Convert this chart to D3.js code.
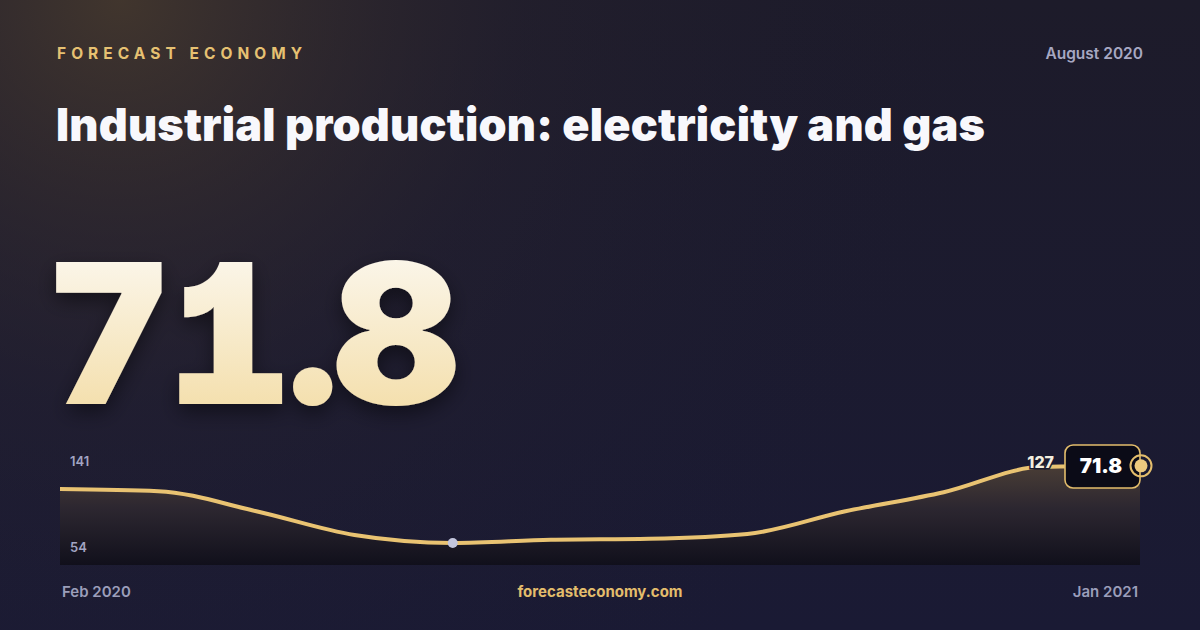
<!DOCTYPE html>
<html><head><meta charset="utf-8">
<script src="https://cdn.jsdelivr.net/npm/d3@7"></script>
<style>
html,body{margin:0;padding:0;background:#181830;}
svg{display:block;font-family:Inter,"Noto Sans",sans-serif;}
.bignum{font-feature-settings:"cv01" 1, "tnum" 1;}
</style></head>
<body>
<svg id="c" width="1200" height="630"></svg>
<script>
const months = ["Feb 2020","Mar 2020","Apr 2020","May 2020","Jun 2020","Jul 2020","Aug 2020","Sep 2020","Oct 2020","Nov 2020","Dec 2020","Jan 2021"];
const values = [105, 103, 84, 61.5, 54, 57, 58, 62.5, 84, 102, 126, 127];
const yRangeLabels = [141, 54];
const headline = "71.8";
const brand = "FORECAST ECONOMY";
const title = "Industrial production: electricity and gas";
const period = "August 2020";
const site = "forecasteconomy.com";

const svg = d3.select("#c");
const defs = svg.append("defs");

function fitWidth(sel, target){
  const n = sel.text().length;
  sel.attr("letter-spacing", 0);
  const w = sel.node().getComputedTextLength();
  sel.attr("letter-spacing", (target - w) / (n - 1));
}

// background
const bg = defs.append("linearGradient").attr("id","bg").attr("x1",0).attr("y1",0).attr("x2",0).attr("y2",1);
bg.append("stop").attr("offset","0%").attr("stop-color","#1d1b2a");
bg.append("stop").attr("offset","100%").attr("stop-color","#1a1a34");
const glow = defs.append("radialGradient").attr("id","glow").attr("cx","0.1").attr("cy","0").attr("r","0.75")
  .attr("gradientTransform","scale(1,1.9)");
glow.append("stop").attr("offset","0%").attr("stop-color","#4a3c2e").attr("stop-opacity",0.8);
glow.append("stop").attr("offset","45%").attr("stop-color","#2c2630").attr("stop-opacity",0.3);
glow.append("stop").attr("offset","100%").attr("stop-color","#1a1a30").attr("stop-opacity",0);
svg.append("rect").attr("width",1200).attr("height",630).attr("fill","url(#bg)");
svg.append("rect").attr("width",1200).attr("height",630).attr("fill","url(#glow)");

// header
const b = svg.append("text").attr("x",57).attr("y",59).text(brand)
  .attr("fill","#e6c172").attr("font-size",15.5).attr("font-weight",700);
fitWidth(b, 245);
svg.append("text").attr("x",1143).attr("y",59).attr("text-anchor","end").text(period)
  .attr("fill","#a7a8c2").attr("font-size",15.5).attr("font-weight",600);
const t = svg.append("text").attr("x",56).attr("y",141).text(title)
  .attr("fill","#f8f8fc").attr("font-size",45).attr("font-weight",900);
fitWidth(t, 929);

// big number
const ng = defs.append("linearGradient").attr("id","ng").attr("x1",0).attr("y1",0).attr("x2",0).attr("y2",1);
ng.append("stop").attr("offset","0%").attr("stop-color","#fdfcfa");
ng.append("stop").attr("offset","100%").attr("stop-color","#f2d99c");
const sh = defs.append("filter").attr("id","sh").attr("x","-20%").attr("y","-20%").attr("width","140%").attr("height","150%");
sh.append("feDropShadow").attr("dx",0).attr("dy",8).attr("stdDeviation",10).attr("flood-color","#000").attr("flood-opacity",0.45);
const big = svg.append("text").attr("class","bignum").attr("x",46).attr("y",404).text(headline)
  .attr("fill","url(#ng)").attr("font-size",195).attr("font-weight",900)
  .attr("filter","url(#sh)");
fitWidth(big, 413);

// chart
const x = d3.scalePoint().domain(months).range([60,1140]);
const y = d3.scaleLinear().domain([d3.min(yRangeLabels), d3.max(yRangeLabels)]).range([543,451]);
const bottom = 565;
const ag = defs.append("linearGradient").attr("id","ag").attr("gradientUnits","userSpaceOnUse")
  .attr("x1",0).attr("y1",451).attr("x2",0).attr("y2",bottom);
ag.append("stop").attr("offset","0%").attr("stop-color","#5a4a38").attr("stop-opacity",0.9);
ag.append("stop").attr("offset","50%").attr("stop-color","#2e2830").attr("stop-opacity",0.9);
ag.append("stop").attr("offset","100%").attr("stop-color","#100f1a").attr("stop-opacity",0.95);

const data = months.map((m,i)=>({m, v:values[i]}));
const area = d3.area().x(d=>x(d.m)).y0(bottom).y1(d=>y(d.v)).curve(d3.curveMonotoneX);
const line = d3.line().x(d=>x(d.m)).y(d=>y(d.v)).curve(d3.curveMonotoneX);
svg.append("path").datum(data).attr("d",area).attr("fill","url(#ag)");
svg.append("path").datum(data).attr("d",line).attr("fill","none").attr("stroke","#e9c372").attr("stroke-width",4).attr("stroke-linejoin","round");

// y labels
svg.selectAll("text.yl").data(yRangeLabels).join("text").attr("class","yl")
  .attr("x",70).attr("y",(d,i)=> i===0 ? 466 : 552).text(d=>d)
  .attr("fill","#a3a5c3").attr("font-size",13).attr("font-weight",600);

// min marker
const minI = d3.minIndex(values);
svg.append("circle").attr("cx",x(months[minI])).attr("cy",y(values[minI])).attr("r",5).attr("fill","#c3c6dd");

// last value label
const lastI = values.length-1;
const lx = x(months[lastI]), ly = y(values[lastI]);
svg.append("text").attr("x",1054).attr("y",468).attr("text-anchor","end").text(values[lastI])
  .attr("fill","#f3eee0").attr("font-size",16).attr("font-weight",800)
  .attr("stroke","#1a1a2e").attr("stroke-width",3).attr("paint-order","stroke");

// badge
svg.append("rect").attr("x",1065).attr("y",445).attr("width",lx-1065).attr("height",43).attr("rx",8)
  .attr("fill","#0b0b17").attr("stroke","#e3bd6c").attr("stroke-width",1.6);
svg.append("text").attr("x",1101).attr("y",473).attr("text-anchor","middle").text(headline)
  .attr("fill","#ffffff").attr("font-size",20.5).attr("font-weight",900);
svg.append("circle").attr("cx",lx+1).attr("cy",ly).attr("r",10.5).attr("fill","none").attr("stroke","#e3bd6c").attr("stroke-width",2);
svg.append("circle").attr("cx",lx+1).attr("cy",ly).attr("r",6.5).attr("fill","#ecc97e");

// footer
svg.append("text").attr("x",62).attr("y",597).text(months[0])
  .attr("fill","#9b9eba").attr("font-size",15).attr("font-weight",600);
svg.append("text").attr("x",1138).attr("y",597).attr("text-anchor","end").text(months[lastI])
  .attr("fill","#9b9eba").attr("font-size",15).attr("font-weight",600);
svg.append("text").attr("x",600).attr("y",597).attr("text-anchor","middle").text(site)
  .attr("fill","#e3bd6c").attr("font-size",15).attr("font-weight",700);
</script>
</body></html>
